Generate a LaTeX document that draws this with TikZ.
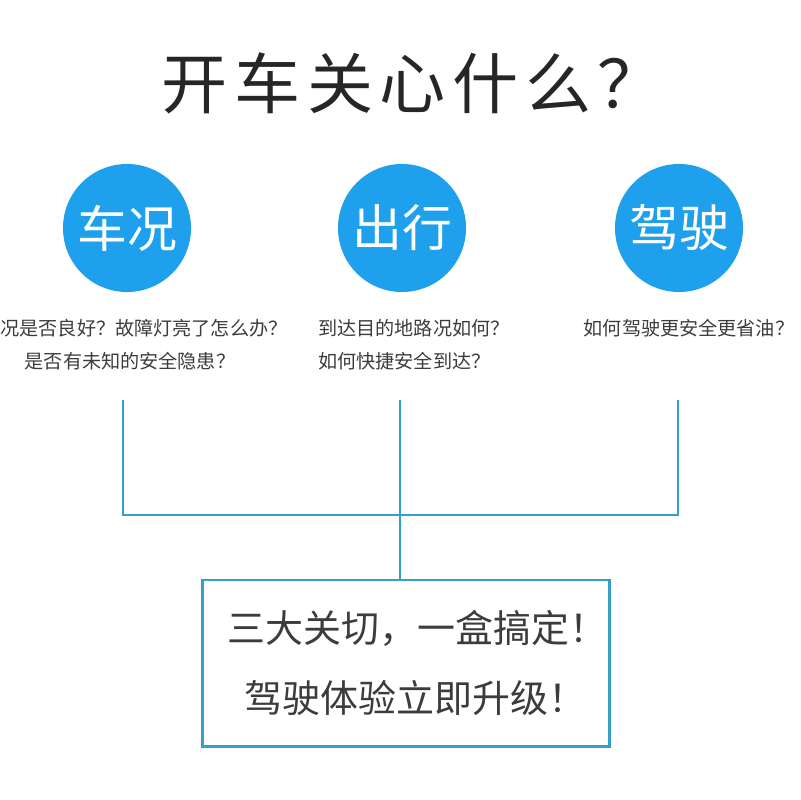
\documentclass[tikz,border=0pt]{standalone}
\usepackage{fontspec}
\usepackage{tikz}
\usepackage{xcolor}
\usetikzlibrary{positioning}
\newfontfamily\cjk{Noto Sans CJK SC}
\newfontfamily\cjktitle[LetterSpace=10]{Noto Sans CJK SC}
\definecolor{drvblue}{RGB}{30, 160, 236}
\definecolor{drvteal}{RGB}{52, 160, 198}
\definecolor{drvtext}{RGB}{60, 60, 60}

\begin{document}
\begin{tikzpicture}[x=0.025cm, y=-0.025cm,
    every node/.style={align=center, inner sep=0pt},
    topic/.style={circle, fill=drvblue, minimum size=3.2cm, text=white, font=\cjk\fontsize{35.5pt}{40pt}\selectfont},
    ask/.style={text=drvtext, font=\cjk\fontsize{13.6pt}{16pt}\selectfont},
    link/.style={draw=drvteal, line width=2.1pt}]
        \useasboundingbox (0,0) rectangle (800,800);
        \node[font=\cjktitle\fontsize{47pt}{52pt}\selectfont, text=black!85] (title) at (413,83) {开车关心什么？};
        % three topics
        \node[topic] (car) at (127,228) {车况};
        \node[topic] (trip) at (402,228) {出行};
        \node[topic] (drive) at (679,228) {驾驶};
        \node[ask] (carqa) at (144,328) {况是否良好？故障灯亮了怎么办？};
        \node[ask] (carqb) at (130,361) {是否有未知的安全隐患？};
        \node[ask, anchor=west] (tripqa) at (318,328) {到达目的地路况如何？};
        \node[ask, anchor=west] (tripqb) at (318,361) {如何快捷安全到达？};
        \node[ask] (driveq) at (689,328) {如何驾驶更安全更省油？};
        % answer box
        \node[draw=drvteal, line width=2.1pt, minimum width=10.15cm, minimum height=4.15cm, text=drvtext, font=\cjk\fontsize{27pt}{50pt}\selectfont] (box) at (406,663) {\hspace*{0.6em}三大关切，一盒搞定！\\\hspace*{0.5em}驾驶体验立即升级！};
        \coordinate (lt) at (123,400);
        \coordinate (mt) at (400,400);
        \coordinate (rt) at (678,400);
        \coordinate (rb) at (678,515);
        \draw[link] (lt) |- (rb) -- (rt);
        \draw[link] (mt) -- (box.north -| mt);
      \end{tikzpicture}
\end{document}
